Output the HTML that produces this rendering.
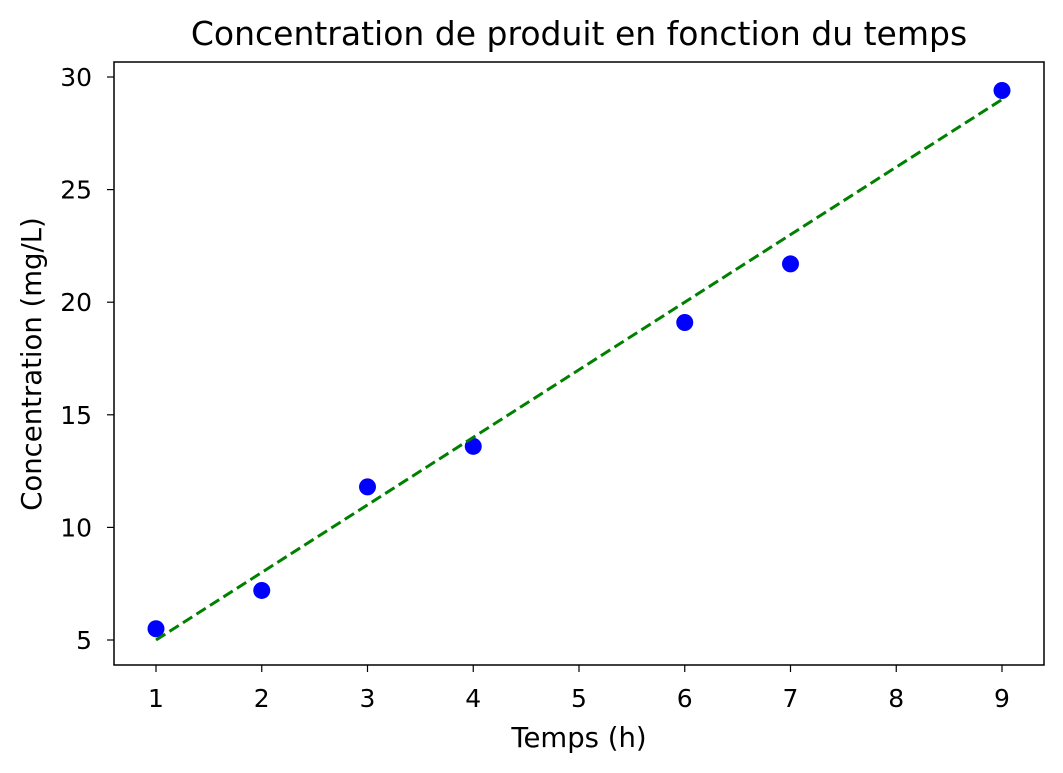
<!DOCTYPE html>
<html><head><meta charset="utf-8"><style>
body{margin:0;background:#fff;}
svg{display:block;font-family:"DejaVu Sans","Liberation Sans",sans-serif;}
</style></head><body>
<svg id="chart" width="1063" height="773">
<text x="579" y="45" text-anchor="middle" font-size="33">Concentration de produit en fonction du temps</text>
<g id="plot"></g>
<text x="579" y="747" text-anchor="middle" font-size="27.5">Temps (h)</text>
<text transform="translate(41,364) rotate(-90)" text-anchor="middle" font-size="27.5">Concentration (mg/L)</text>
<rect x="114" y="62" width="930" height="603" fill="none" stroke="#000" stroke-width="1.5"/>
</svg>
<script>
const times=[1,2,3,4,6,7,9];
const conc=[5.5,7.2,11.8,13.6,19.1,21.7,29.4];
const fitX=[1,9];
const fitY=[5.0,29.0];
const xTicks=[1,2,3,4,5,6,7,8,9];
const yTicks=[5,10,15,20,25,30];
const NS='http://www.w3.org/2000/svg';
const g=document.getElementById('plot');
function sx(v){return 156+(v-1)*105.75;}
function sy(v){return 640-(v-5)*22.52;}
function mk(t,a){const e=document.createElementNS(NS,t);for(const k in a)e.setAttribute(k,a[k]);g.appendChild(e);return e;}
xTicks.forEach(v=>{
 const l=mk('line',{x1:sx(v),x2:sx(v),y1:665,y2:672,stroke:'#000','stroke-width':1.2});
 
 
 const t=mk('text',{x:sx(v),y:707,'text-anchor':'middle','font-size':25});
 t.textContent=v;
 
 
});
yTicks.forEach(v=>{
 const l=mk('line',{x1:107,x2:114,y1:sy(v),y2:sy(v),stroke:'#000','stroke-width':1.2});
 
 
 const t=mk('text',{x:92,y:sy(v)+9,'text-anchor':'end','font-size':25});
 t.textContent=v;
 
 
});
times.forEach((v,i)=>{
 const c=mk('circle',{cx:sx(v),cy:sy(conc[i]),r:8.5,fill:'#0000ff'});
 
 
});
const ln=mk('line',{x1:sx(fitX[0]),y1:sy(fitY[0]),x2:sx(fitX[1]),y2:sy(fitY[1]),stroke:'#008000','stroke-width':3,'stroke-dasharray':'11,5'});


</script>
</body></html>
